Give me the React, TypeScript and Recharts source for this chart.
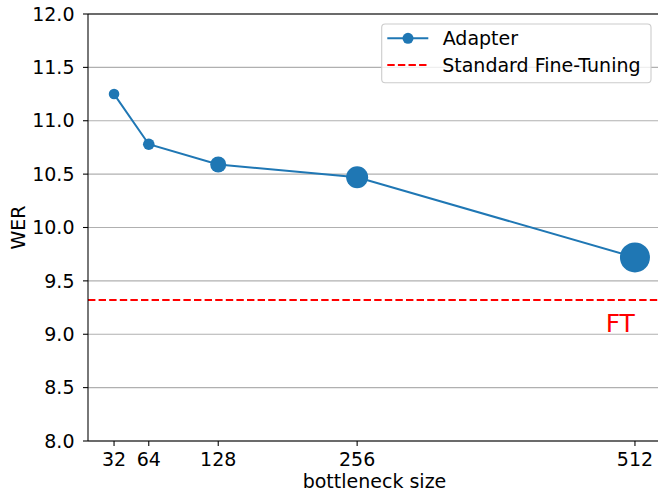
import React from 'react';
import { LineChart, Line, XAxis, YAxis, CartesianGrid, ReferenceLine, ReferenceDot, Legend } from 'recharts';

const bottleneckSizes = [32, 64, 128, 256, 512];
const werValues = [11.25, 10.78, 10.59, 10.47, 9.72];
const markerRadius = [5.3, 5.8, 8, 11, 15];
const fineTuningWer = 9.32;
const xTicks = [32, 64, 128, 256, 512];
const yTicks = [8.0, 8.5, 9.0, 9.5, 10.0, 10.5, 11.0, 11.5, 12.0];
const seriesNames = ['Adapter', 'Standard Fine-Tuning'];
const ftLabel = { text: 'FT', x: 485, y: 9.02 };

const data = bottleneckSizes.map((s, i) => ({ size: s, wer: werValues[i], r: markerRadius[i] }));

const FONT = 'DejaVu Sans, sans-serif';
const BLUE = '#1f77b4';
const RED = '#ff0000';
const FS = 19;

const renderDot = (props: any) => {
  const { cx, cy, index, payload } = props;
  return <circle key={`dot-${index}`} cx={cx} cy={cy} r={payload.r} fill={BLUE} stroke="none" />;
};

const renderLegend = () => (
  <svg width={658} height={100} style={{ display: 'block' }}>
    <rect x={381.7} y={24} width={269.3} height={58.7} rx={3.5} ry={3.5} fill="#ffffff" fillOpacity={0.8} stroke="#cccccc" strokeWidth={1.1} />
    <line x1={387.3} x2={428.3} y1={38.3} y2={38.3} stroke={BLUE} strokeWidth={2} />
    <circle cx={408} cy={38.3} r={5.5} fill={BLUE} />
    <text x={442.7} y={45} fontFamily={FONT} fontSize={FS} fill="#000">{seriesNames[0]}</text>
    <line x1={387.3} x2={428.3} y1={65} y2={65} stroke={RED} strokeWidth={2} strokeDasharray="7.4 3.2" />
    <text x={442.2} y={71.7} fontFamily={FONT} fontSize={FS} fill="#000">{seriesNames[1]}</text>
  </svg>
);

const YLabel = (props: any) => {
  const vb = props.viewBox || { x: 0, y: 14, width: 88, height: 427 };
  const cx = 17.5;
  const cy = vb.y + vb.height / 2;
  return (
    <text x={cx} y={cy} transform={`rotate(-90 ${cx} ${cy})`} textAnchor="middle" dominantBaseline="central" fontFamily={FONT} fontSize={FS} fill="#000">WER</text>
  );
};

const XLabel = (props: any) => {
  const vb = props.viewBox || { x: 88, y: 441, width: 573, height: 51 };
  const cx = vb.x + vb.width / 2;
  return (
    <text x={cx} y={488} textAnchor="middle" fontFamily={FONT} fontSize={FS} fill="#000">bottleneck size</text>
  );
};

const FtText = (props: any) => {
  const { cx, cy } = props;
  return <text x={cx} y={cy} fontFamily={FONT} fontSize={25} fill={RED}>{ftLabel.text}</text>;
};

export default function App() {
  return (
    <div style={{ position: 'absolute', left: 0, top: 0, width: 658, height: 492, overflow: 'hidden', background: '#fff' }}>
      <LineChart width={670} height={492} data={data} margin={{ top: 14, right: 9, bottom: 0, left: 0 }}>
        <CartesianGrid vertical={false} stroke="#b0b0b0" strokeWidth={1.07} />
        <XAxis
          dataKey="size"
          type="number"
          domain={[8, 536]}
          ticks={xTicks}
          height={51}
          tickSize={5}
          tickMargin={7}
          stroke="#000"
          axisLine={{ stroke: '#000', strokeWidth: 1.07 }}
          tickLine={{ stroke: '#000', strokeWidth: 1.07 }}
          tick={{ fontFamily: FONT, fontSize: FS, fill: '#000' }}
          interval={0}
          allowDataOverflow
          label={<XLabel />}
        />
        <YAxis
          type="number"
          domain={[8, 12]}
          ticks={yTicks}
          width={88}
          tickSize={5}
          tickMargin={8.5}
          axisLine={{ stroke: '#000', strokeWidth: 1.07 }}
          tickLine={{ stroke: '#000', strokeWidth: 1.07 }}
          tick={{ fontFamily: FONT, fontSize: FS, fill: '#000' }}
          tickFormatter={(v: number) => v.toFixed(1)}
          interval={0}
          allowDataOverflow
          label={<YLabel />}
        />
        <ReferenceLine y={12} stroke="#000" strokeWidth={1.07} />
        <ReferenceLine y={fineTuningWer} stroke={RED} strokeWidth={2} strokeDasharray="7.4 3.2" />
        <ReferenceDot x={ftLabel.x} y={ftLabel.y} r={0} shape={<FtText />} />
        <Line
          dataKey="wer"
          type="linear"
          stroke={BLUE}
          strokeWidth={2}
          dot={renderDot}
          activeDot={false}
          isAnimationActive={false}
        />
        <Legend
          layout="horizontal"
          verticalAlign="middle"
          align="center"
          content={renderLegend}
          wrapperStyle={{ position: 'absolute', left: 0, top: 0, width: 658, height: 100 }}
        />
      </LineChart>
    </div>
  );
}
